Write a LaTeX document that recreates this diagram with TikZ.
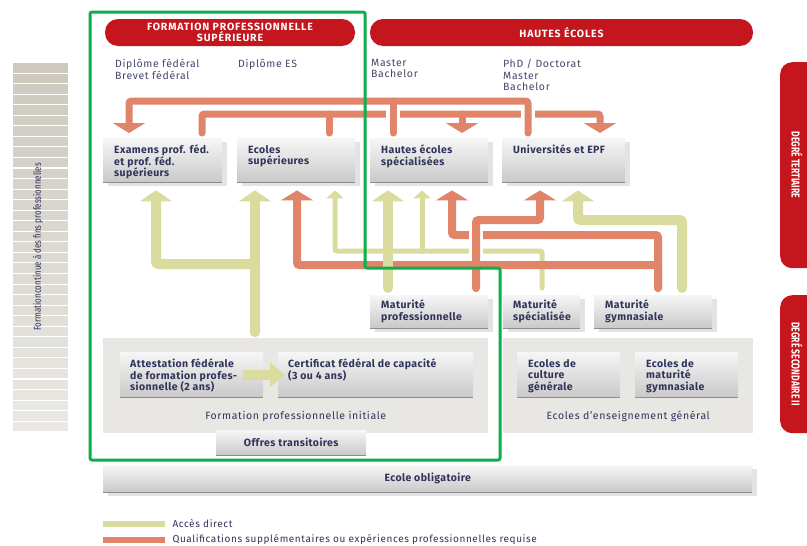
\documentclass[tikz,border=0pt]{standalone}
\usepackage{fontspec}
\setmainfont{Fira Sans}
\usepackage{graphicx}
\usetikzlibrary{arrows.meta,shadows,calc}

\definecolor{swred}{HTML}{C4161C}
\definecolor{acces}{HTML}{DADC9E}
\definecolor{qualif}{HTML}{E0846A}
\definecolor{encre}{HTML}{30335A}
\definecolor{panneau}{HTML}{E9E7E3}
\definecolor{boxhaut}{HTML}{F6F6F6}
\definecolor{boxbas}{HTML}{C9C9C9}
\definecolor{boxbord}{HTML}{8C8C8C}
\definecolor{ombre}{HTML}{E3E3E3}
\definecolor{cadrevert}{HTML}{0DAF4C}
\definecolor{bandehaut}{HTML}{CDC9BF}
\definecolor{bandebas}{HTML}{EAE8E4}

\tikzset{
  boite/.style={anchor=north west, inner sep=0pt, top color=boxhaut, bottom color=boxbas,
    text=encre, font=\bfseries\fontsize{10.5}{12}\selectfont\addfontfeature{LetterSpace=4},
    path picture={\draw[boxbord,line width=1.3pt] (path picture bounding box.south west) -- (path picture bounding box.south east);}},
  ombree/.style={boite, drop shadow={shadow xshift=5pt,shadow yshift=-4pt,fill=ombre,opacity=1}},
  etiq/.style={anchor=north west, align=left, inner xsep=11pt, inner ysep=7pt, text=encre,
    font=\bfseries\fontsize{10.5}{11.5}\selectfont\addfontfeature{LetterSpace=4}},
  pastille/.style={fill=swred, rounded corners=13pt, text=white, align=center, inner sep=0pt,
    font=\bfseries\fontsize{10.5}{11}\selectfont\addfontfeature{LetterSpace=8}},
  onglet/.style={anchor=north west, fill=swred, rounded corners=12pt, inner sep=0pt},
  diplome/.style={anchor=north west, align=left, inner sep=0pt, text=encre!90,
    font=\fontsize{10.5}{11.5}\selectfont\addfontfeature{LetterSpace=6}},
  panneaugris/.style={anchor=north west, fill=panneau, inner sep=0pt},
  titre/.style={text=encre, font=\fontsize{10.5}{12}\selectfont\addfontfeature{LetterSpace=6}},
  legende/.style={anchor=west, text=encre, font=\fontsize{10}{11}\selectfont\addfontfeature{LetterSpace=6}},
  acdirect/.style={draw=acces, line width=10pt, line cap=round, rounded corners=2.5pt},
  acfin/.style={draw=acces, line width=5pt, line cap=round, rounded corners=2pt},
  qbas/.style={draw=qualif, line width=8pt, line cap=round, rounded corners=2.5pt},
  qhaut/.style={draw=qualif, line width=7pt, line cap=round, rounded corners=2.5pt},
  trou/.style={draw=white, line width=14pt},
  pg/.style={-{Triangle[length=11pt,width=32pt]}},
  po/.style={-{Triangle[length=10pt,width=32pt]}},
  pf/.style={-{Triangle[length=8pt,width=17pt]}},
  cadre/.style={draw=cadrevert, line width=3pt, rounded corners=2pt}
}

\begin{document}
\begin{tikzpicture}[x=1pt,y=-1pt]
\useasboundingbox (0,0) rectangle (807,546);
\fill[white] (0,0) rectangle (807,546);

% bande de gauche
\foreach \i in {0,...,34}{
  \pgfmathtruncatemacro\pc{100-\i*100/34}
  \fill[bandehaut!\pc!bandebas] (13,{63+\i*10.55}) rectangle (68,{63+\i*10.55+9.5});
}
\node[rotate=90, text=encre, font=\fontsize{10}{12}\selectfont] (fcont) at (38,247)
  {\scalebox{0.8}[1]{Formationcontinue à des fins professionnelles}};

% en-tetes
\node[pastille, minimum width=250pt, minimum height=27pt] (fps) at (230,32.5) {FORMATION PROFESSIONNELLE\\SUPÉRIEURE};
\node[pastille, minimum width=383pt, minimum height=27pt] (he) at (561.5,32.5) {HAUTES ÉCOLES};
\node[onglet, minimum width=50pt, minimum height=206pt] (tert) at (780,62) {};
\node[rotate=-90, text=white, font=\bfseries\fontsize{11.5}{12}\selectfont] (tert-t) at (797,165) {\scalebox{0.75}[1]{DEGRÉ TERTIAIRE}};
\node[onglet, minimum width=50pt, minimum height=138pt] (sec) at (780,295) {};
\node[rotate=-90, text=white, font=\bfseries\fontsize{11.5}{12}\selectfont] (sec-t) at (797,364) {\scalebox{0.75}[1]{DEGRÉ SECONDAIRE II}};

\node[diplome] (d-fed) at (115,59) {Diplôme fédéral\\Brevet fédéral};
\node[diplome] (d-es) at (238,59) {Diplôme ES};
\node[diplome] (d-hes) at (371,59) {Master\\Bachelor};
\node[diplome] (d-uni) at (503,59) {PhD / Doctorat\\Master\\Bachelor};

% degre tertiaire
\node[ombree, minimum width=119pt, minimum height=44pt] (exam) at (103,138) {};
\node[etiq] (exam-t) at (exam.north west) {Examens prof. féd.\\et prof. féd.\\supérieurs};
\node[ombree, minimum width=118pt, minimum height=44pt] (esup) at (237,138) {};
\node[etiq] (esup-t) at (esup.north west) {Ecoles\\supérieures};
\node[ombree, minimum width=118pt, minimum height=44pt] (hes) at (370,138) {};
\node[etiq] (hes-t) at (hes.north west) {Hautes écoles\\spécialisées};
\node[ombree, minimum width=123pt, minimum height=44pt] (uni) at (502,138) {};
\node[etiq] (uni-t) at (uni.north west) {Universités et EPF};

% maturites
\node[ombree, minimum width=118pt, minimum height=33pt] (matpro) at (370,295) {};
\node[etiq, inner ysep=5pt] (matpro-t) at (matpro.north west) {Maturité\\professionnelle};
\node[ombree, minimum width=77pt, minimum height=33pt] (matspe) at (503,295) {};
\node[etiq, inner ysep=5pt, inner xsep=10pt] (matspe-t) at (matspe.north west) {Maturité\\spécialisée};
\node[ombree, minimum width=118pt, minimum height=33pt] (matgym) at (594,295) {};
\node[etiq, inner ysep=5pt] (matgym-t) at (matgym.north west) {Maturité\\gymnasiale};

% degre secondaire II
\node[panneaugris, minimum width=385pt, minimum height=95pt] (fpi) at (103,338) {};
\node[titre] (fpi-t) at ([yshift=17pt]fpi.south) {Formation professionnelle initiale};
\node[boite, minimum width=143pt, minimum height=45pt] (attest) at (120,352) {};
\node[etiq, inner xsep=10pt] (attest-t) at (attest.north west) {Attestation fédérale\\de formation profes-\\sionnelle (2 ans)};
\node[boite, minimum width=195pt, minimum height=45pt] (cfc) at (278,352) {};
\node[etiq, inner xsep=10pt] (cfc-t) at (cfc.north west) {Certificat fédéral de capacité\\(3 ou 4 ans)};
\draw[acdirect, line cap=butt, -{Triangle[length=15pt,width=24pt]}] ([xshift=-20pt]attest.east) -- ([xshift=7pt]cfc.west);
\node[boite, minimum width=150pt, minimum height=25pt] (offres) at (216,430) {Offres transitoires};

\node[panneaugris, minimum width=250pt, minimum height=95pt] (eeg) at (503,338) {};
\node[titre] (eeg-t) at ([yshift=17pt]eeg.south) {Ecoles d'enseignement général};
\node[boite, minimum width=103pt, minimum height=45pt] (ecg) at (517,352) {};
\node[etiq] (ecg-t) at (ecg.north west) {Ecoles de\\culture\\générale};
\node[boite, minimum width=103pt, minimum height=45pt] (emg) at (635,352) {};
\node[etiq] (emg-t) at (emg.north west) {Ecoles de\\maturité\\gymnasiale};

\node[ombree, minimum width=649pt, minimum height=27pt] (oblig) at (103,465) {Ecole obligatoire};

% points d'attache
\coordinate (ex-a) at ($(exam.north west)+(26,-5)$);
\coordinate (ex-s) at ($(exam.north west)+(99,-5)$);
\coordinate (es-s) at ($(esup.north west)+(92,-5)$);
\coordinate (he-s) at ($(hes.north west)+(23,-5)$);
\coordinate (he-a) at ($(hes.north west)+(92,-5)$);
\coordinate (un-s) at ($(uni.north west)+(26,-5)$);
\coordinate (un-a) at ($(uni.north west)+(98,-5)$);
\coordinate (ex-g) at ($(exam.south west)+(53,8)$);
\coordinate (es-g) at ($(esup.south west)+(18,8)$);
\coordinate (es-o) at ($(esup.south west)+(60,8)$);
\coordinate (es-f) at ($(esup.south west)+(98,8)$);
\coordinate (he-g) at ($(hes.south west)+(18,8)$);
\coordinate (he-f) at ($(hes.south west)+(52,8)$);
\coordinate (he-o) at ($(hes.south west)+(82,8)$);
\coordinate (un-o) at ($(uni.south west)+(38,8)$);
\coordinate (un-g) at ($(uni.south west)+(76,8)$);
\coordinate (fp-g) at ($(fpi.north west)+(152,-6)$);
\coordinate (mp-g) at ($(matpro.north west)+(18,-7)$);
\coordinate (mp-o) at ($(matpro.north west)+(106,-7)$);
\coordinate (ms-f) at ($(matspe.north west)+(39,-7)$);
\coordinate (mg-o) at ($(matgym.north west)+(64,-7)$);
\coordinate (mg-g) at ($(matgym.north west)+(88,-7)$);

% passerelles vers le haut
\draw[qhaut,po] (ex-s) -- ++(0,-19) -| (un-a);
\draw[qhaut] (es-s) -- ++(0,-19);
\draw[qhaut,po] (he-a) ++(0,-19) -- (he-a);
\draw[trou] (he-s) ++(0,-13) -- ++(0,-12);
\draw[trou] (un-s) ++(0,-13) -- ++(0,-12);
\draw[qhaut,po] (un-s) -- ++(0,-32) -| (ex-a);
\draw[qhaut] (he-s) -- ++(0,-32);

% acces depuis le secondaire II
\draw[acfin,pf] (ms-f) -- ++(0,-37) -| (es-f);
\draw[acfin,pf] (he-f) ++(0,61) -- (he-f);
\draw[qbas,po] (mg-o) -- ++(0,-53) -| (he-o);
\draw[qbas,po] (mg-o) -- ++(0,-23) -| (es-o);
\draw[acdirect,pg] (fp-g) -- (es-g);
\draw[acdirect,pg] (fp-g) -- ++(0,-68) -| (ex-g);
\draw[acdirect,pg] (mp-g) -- (he-g);
\draw[acdirect,pg] (mg-g) -- ++(0,-68) -| (un-g);
\draw[trou] (mp-o) ++(0,-29) -- ++(0,-32);
\draw[qbas,po] (mp-o) -- ++(0,-68) -| (un-o);

% legende
\fill[acces] (103,521) rectangle (165,527);
\node[legende] (leg-a) at (169,524) {Accès direct};
\fill[qualif] (103,537) rectangle (165,543);
\node[legende] (leg-q) at (169,540) {Qualifications supplémentaires ou expériences professionnelles requise};

% cadre formation professionnelle
\draw[cadre] (90,12) -| (365,268) -| (500,460) -- (90,460) -- cycle;
\end{tikzpicture}
\end{document}
